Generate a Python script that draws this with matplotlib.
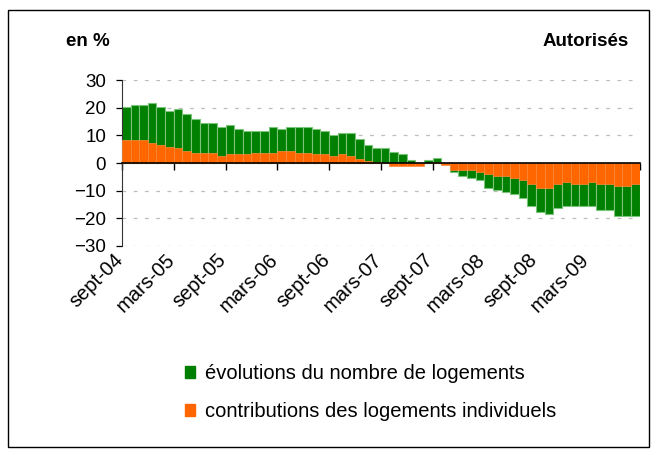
import numpy as np
import matplotlib
matplotlib.use("Agg")
import matplotlib.pyplot as plt
import matplotlib.transforms as mtransforms
from matplotlib.patches import Patch, Rectangle

plt.rcParams['font.family'] = ['Liberation Sans', 'DejaVu Sans']

# évolution mensuelle, sept-04 -> août-09 (en %)
total = [20.4, 21.2, 21.2, 21.9, 20.4, 19.0, 19.7, 17.7, 16.1, 14.7,
         14.7, 13.2, 13.9, 12.5, 11.8, 11.8, 11.8, 13.2, 12.5, 13.2,
         13.2, 13.1, 12.4, 11.7, 10.2, 11.0, 11.0, 8.8, 6.6, 5.3,
         5.3, 3.9, 3.3, 1.1, -0.4, 1.1, 1.8, -0.5, -3.3, -4.7,
         -5.5, -6.2, -9.1, -9.7, -10.6, -11.2, -12.7, -15.5, -17.7, -18.4,
         -16.2, -15.5, -15.5, -15.5, -15.5, -17.0, -17.0, -19.2, -19.2, -19.2]
indiv = [8.2, 8.2, 8.2, 7.4, 6.6, 6.0, 5.3, 4.5, 3.8, 3.8,
         3.8, 2.4, 3.1, 3.1, 3.1, 3.8, 3.8, 3.8, 4.5, 4.5,
         3.8, 3.8, 3.1, 3.1, 2.4, 3.1, 2.4, 1.6, 0.9, 0.4,
         0.0, -1.0, -1.0, -1.0, -1.0, 0.0, 0.2, -0.8, -2.4, -2.4,
         -2.4, -3.2, -3.9, -4.6, -4.6, -5.5, -6.3, -7.6, -9.1, -9.1,
         -7.6, -6.9, -7.6, -7.6, -6.9, -7.6, -7.6, -8.3, -8.3, -7.6]
tick_labels = ['sept-04', 'mars-05', 'sept-05', 'mars-06', 'sept-06',
               'mars-07', 'sept-07', 'mars-08', 'sept-08', 'mars-09']
series_names = ['évolutions du nombre de logements',
                'contributions des logements individuels']

green = '#008000'
orange = '#ff6600'

fig = plt.figure(figsize=(6.58, 4.55), dpi=100)
ax = fig.add_axes([0.1854, 0.4604, 0.7866, 0.3627])

x = np.arange(len(total))
ax.bar(x, total, width=1.0, color=green, edgecolor='#7cc47c', linewidth=0.8, zorder=2)
ax.bar(x, indiv, width=1.0, color=orange, edgecolor='#ff8a3d', linewidth=0.5, zorder=3)

ax.set_xlim(-0.5, len(total) - 0.5)
ax.set_ylim(-30, 30)
ax.set_yticks(range(-30, 31, 10))
ax.tick_params(axis='y', length=4, width=0.9, pad=7.5, labelsize=13.5, colors='black')
ax.yaxis.grid(True, linestyle=(0, (3, 6)), color='#bdbdbd', linewidth=0.9)
ax.set_axisbelow(True)

for s in ['top', 'right']:
    ax.spines[s].set_visible(False)
ax.spines['left'].set_color('#333333')
ax.spines['bottom'].set_position(('data', 0))
ax.spines['bottom'].set_linewidth(1.2)
ax.spines['bottom'].set_zorder(5)

# tick marks between categories, every 6 months
ax.set_xticks(np.arange(-0.5, len(total) + 1, 6))
ax.tick_params(axis='x', length=5, width=1, labelbottom=False)

# labels at the bottom of the plot, ending near the tick marks
sec = ax.secondary_xaxis('bottom')
sec.set_xticks(np.arange(0, len(total), 6), labels=tick_labels)
sec.tick_params(length=0, pad=3.5, labelsize=14.5)
shift = mtransforms.ScaledTranslation(-0.13, 0, fig.dpi_scale_trans)
for lab in sec.get_xticklabels():
    lab.set_rotation(45)
    lab.set_ha('right')
    lab.set_va('top')
    lab.set_rotation_mode('anchor')
    lab.set_transform(lab.get_transform() + shift)
sec.spines['bottom'].set_visible(False)

fig.text(66 / 658, 1 - 41 / 455, 'en %', fontsize=13.5, fontweight='bold',
         ha='left', va='center')
fig.text(629 / 658, 1 - 41 / 455, 'Autorisés', fontsize=13.5, fontweight='bold',
         ha='right', va='center')

handles = [Patch(facecolor=green, edgecolor=green),
           Patch(facecolor=orange, edgecolor=orange)]
fig.legend(handles, series_names, loc='upper left',
           bbox_to_anchor=(185 / 658, 1 - 364 / 455), frameon=False,
           fontsize=14.5, handlelength=0.5, handleheight=0.5,
           handletextpad=0.5, labelspacing=0.95, borderpad=0, borderaxespad=0)

fig.patches.append(Rectangle((8 / 658, 1 - 447 / 455), 641 / 658, 437 / 455,
                             transform=fig.transFigure, fill=False,
                             edgecolor='black', linewidth=1))

fig.savefig('out.png', dpi=100)
